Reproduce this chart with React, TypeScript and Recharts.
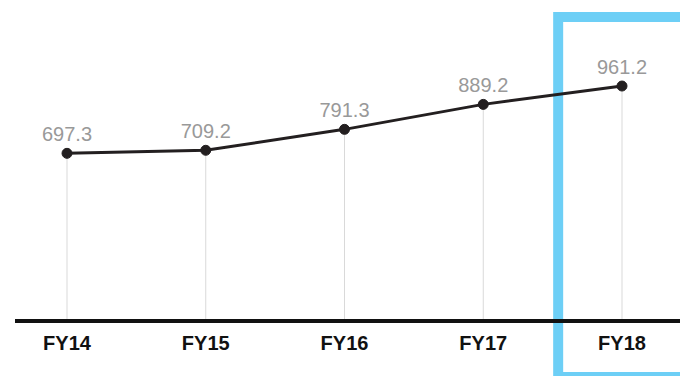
import React from "react";
import {
  LineChart,
  Line,
  XAxis,
  YAxis,
  ReferenceLine,
  ReferenceArea,
  LabelList,
} from "recharts";

const years = ["FY14", "FY15", "FY16", "FY17", "FY18"];
const revenue = [697.3, 709.2, 791.3, 889.2, 961.2];

const data = years.map((year, i) => ({ idx: i, year, value: revenue[i] }));

const Y_MIN = 40;
const Y_MAX = 1220;

export default function App() {
  return (
    <div
      style={{
        position: "absolute",
        top: 0,
        left: 0,
        width: 680,
        height: 376,
        background: "#fff",
        fontFamily: "'Liberation Sans', Arial, Helvetica, sans-serif",
      }}
    >
      <LineChart
        width={680}
        height={376}
        data={data}
        margin={{ top: 20, right: 0, left: 15, bottom: 15 }}
      >
        <XAxis
          dataKey="idx"
          type="number"
          domain={[0, years.length - 1]}
          ticks={data.map((d) => d.idx)}
          tickFormatter={(i: number) => years[i]}
          padding={{ left: 52, right: 58 }}
          height={40}
          tickLine={false}
          tickSize={0}
          tickMargin={15}
          axisLine={{ stroke: "#111", strokeWidth: 4 }}
          tick={{ fill: "#111", fontSize: 20, fontWeight: "bold" }}
        />
        <YAxis hide domain={[Y_MIN, Y_MAX]} />
        {/* thin drop lines from each point to the baseline */}
        {data.map((d) => (
          <ReferenceLine
            key={d.year}
            segment={[
              { x: d.idx, y: Y_MIN },
              { x: d.idx, y: d.value },
            ]}
            stroke="#d9d9d9"
            strokeWidth={1}
          />
        ))}
        {/* highlight frame around the latest year */}
        <ReferenceArea
          x1={3.54}
          x2={4.6}
          y1={-180}
          y2={1232}
          ifOverflow="visible"
          fill="none"
          stroke="#6dcff6"
          strokeWidth={10}
          fillOpacity={0}
        />
        <Line
          type="linear"
          dataKey="value"
          stroke="#231f20"
          strokeWidth={3}
          dot={{ r: 5, fill: "#231f20", stroke: "#231f20", strokeWidth: 1 }}
          activeDot={false}
          isAnimationActive={false}
        >
          <LabelList
            dataKey="value"
            position="top"
            offset={12}
            fill="#999"
            fontSize={20}
            formatter={(v: number) => v.toFixed(1)}
          />
        </Line>
      </LineChart>
    </div>
  );
}
